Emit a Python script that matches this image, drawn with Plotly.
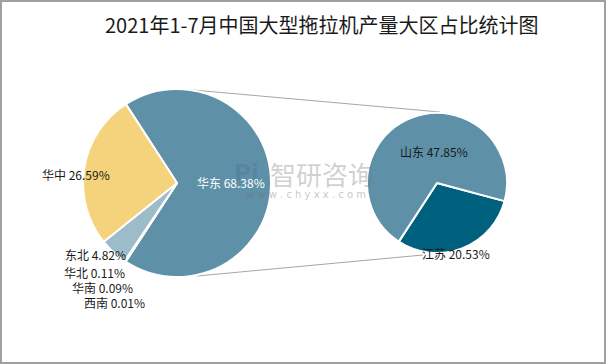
import plotly.graph_objects as go

W, H = 606, 364

# ---- data ----
region_labels = ["华东", "西南", "华南", "华北", "东北", "华中"]
region_values = [68.38, 0.01, 0.09, 0.11, 4.82, 26.59]
region_colors = ["#5E91A8", "#9DBCCA", "#9DBCCA", "#9DBCCA", "#9DBCCA", "#F5D37C"]

prov_labels = ["江苏", "山东"]
prov_values = [20.53, 47.85]
prov_colors = ["#00617F", "#5E91A8"]

title_text = "2021年1-7月中国大型拖拉机产量大区占比统计图"

# ---- geometry (pixels) ----
L_cx, L_cy, L_r = 177, 183, 94
R_cx, R_cy, R_r = 437, 183, 70


def dom(cx, cy, r):
    return dict(x=[(cx - r) / W, (cx + r) / W],
                y=[1 - (cy + r) / H, 1 - (cy - r) / H])


def px(x):
    return x / W


def py(y):
    return 1 - y / H


fig = go.Figure()
fig.add_trace(go.Pie(
    labels=region_labels, values=region_values, sort=False,
    direction="clockwise", rotation=327,
    marker=dict(colors=region_colors, line=dict(color="white", width=2)),
    textinfo="none", hoverinfo="label+percent", domain=dom(L_cx, L_cy, L_r),
    showlegend=False,
))
fig.add_trace(go.Pie(
    labels=prov_labels, values=prov_values, sort=False,
    direction="clockwise", rotation=105,
    marker=dict(colors=prov_colors, line=dict(color="white", width=2)),
    textinfo="none", hoverinfo="label+value", domain=dom(R_cx, R_cy, R_r),
    showlegend=False,
))

font = "Noto Sans CJK SC, Microsoft YaHei, sans-serif"
ann = []


def lab(text, x, y, color="#1a1a1a", xanchor="center", size=12, fam=font):
    ann.append(dict(text=text, x=px(x), y=py(y), xref="paper", yref="paper",
                    showarrow=False, xanchor=xanchor, yanchor="middle",
                    font=dict(family=fam, size=size, color=color)))


def pct(name, v):
    return f"{name} {v:.2f}%"

# watermark
lab("<b>Pi</b>", 246, 173, color="rgba(70,100,140,0.30)", size=23, fam="DejaVu Sans")
lab("智研咨询", 322, 173, color="rgba(120,120,120,0.35)", size=26)
lab("w w w . c h y x x . c o m", 306, 194, color="rgba(110,110,110,0.4)", size=10,
    fam="DejaVu Sans")

rv = dict(zip(region_labels, region_values))
pv = dict(zip(prov_labels, prov_values))
lab(pct("华东", rv["华东"]), 231, 182, color="white")
lab(pct("华中", rv["华中"]), 40, 174, xanchor="left")
lab(pct("东北", rv["东北"]), 63, 255, xanchor="left")
lab(pct("华北", rv["华北"]), 62, 272, xanchor="left")
lab(pct("华南", rv["华南"]), 70, 287, xanchor="left")
lab(pct("西南", rv["西南"]), 82, 302, xanchor="left")
lab(pct("山东", pv["山东"]), 434, 151)
lab(pct("江苏", pv["江苏"]), 456, 253)

lab(title_text, 322, 25, size=20)

shapes = [
    dict(type="line", xref="paper", yref="paper", x0=px(193), y0=py(90),
         x1=px(440), y1=py(112), line=dict(color="#A6A6A6", width=1), layer="below"),
    dict(type="line", xref="paper", yref="paper", x0=px(197), y0=py(276),
         x1=px(423), y1=py(255), line=dict(color="#A6A6A6", width=1), layer="below"),
    dict(type="rect", xref="paper", yref="paper", x0=px(1), y0=py(363),
         x1=px(605), y1=py(1), line=dict(color="#A0A0A0", width=2)),
]

fig.update_layout(
    width=W, height=H, margin=dict(l=0, r=0, t=0, b=0),
    paper_bgcolor="white", plot_bgcolor="white",
    annotations=ann, shapes=shapes,
)

fig.write_html("out.html", config={"displayModeBar": False},
               post_script="document.body.style.margin='0';document.body.style.overflow='hidden';")
